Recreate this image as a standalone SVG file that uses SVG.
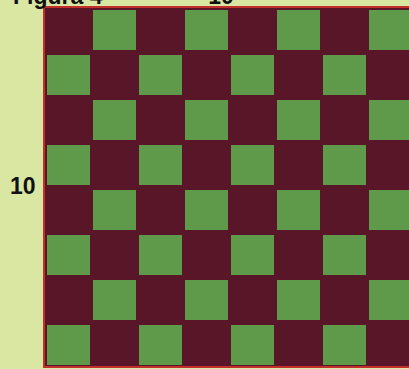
<svg xmlns="http://www.w3.org/2000/svg" width="409" height="369" viewBox="0 0 409 369">
<style>
.bg{fill:#d9e7a3}
.dark{fill:#581628}
.g{fill:#5e9a49}
.frame{fill:none;stroke:#c2302c;stroke-width:2}
.t{font-family:"Liberation Sans",Arial,sans-serif;font-weight:bold;font-size:23px;fill:#111}
</style>
<rect class="bg" x="0" y="0" width="409" height="369"/>
<g id="board">
<rect class="dark" x="44" y="7" width="368" height="360"/>
<g id="greens">
<rect class="g" x="93" y="10" width="43" height="40"/><rect class="g" x="185" y="10" width="43" height="40"/><rect class="g" x="277" y="10" width="43" height="40"/><rect class="g" x="369" y="10" width="43" height="40"/>
<rect class="g" x="47" y="55" width="43" height="40"/><rect class="g" x="139" y="55" width="43" height="40"/><rect class="g" x="231" y="55" width="43" height="40"/><rect class="g" x="323" y="55" width="43" height="40"/>
<rect class="g" x="93" y="100" width="43" height="40"/><rect class="g" x="185" y="100" width="43" height="40"/><rect class="g" x="277" y="100" width="43" height="40"/><rect class="g" x="369" y="100" width="43" height="40"/>
<rect class="g" x="47" y="145" width="43" height="40"/><rect class="g" x="139" y="145" width="43" height="40"/><rect class="g" x="231" y="145" width="43" height="40"/><rect class="g" x="323" y="145" width="43" height="40"/>
<rect class="g" x="93" y="190" width="43" height="40"/><rect class="g" x="185" y="190" width="43" height="40"/><rect class="g" x="277" y="190" width="43" height="40"/><rect class="g" x="369" y="190" width="43" height="40"/>
<rect class="g" x="47" y="235" width="43" height="40"/><rect class="g" x="139" y="235" width="43" height="40"/><rect class="g" x="231" y="235" width="43" height="40"/><rect class="g" x="323" y="235" width="43" height="40"/>
<rect class="g" x="93" y="280" width="43" height="40"/><rect class="g" x="185" y="280" width="43" height="40"/><rect class="g" x="277" y="280" width="43" height="40"/><rect class="g" x="369" y="280" width="43" height="40"/>
<rect class="g" x="47" y="325" width="43" height="40"/><rect class="g" x="139" y="325" width="43" height="40"/><rect class="g" x="231" y="325" width="43" height="40"/><rect class="g" x="323" y="325" width="43" height="40"/>
</g>
<rect class="frame" x="44" y="7" width="370" height="360"/>
</g>
<g id="labels">
<text class="t" x="13" y="4">Figura 4</text>
<text class="t" x="221" y="4" text-anchor="middle">10</text>
<text class="t" x="10" y="194">10</text>
</g>
</svg>
